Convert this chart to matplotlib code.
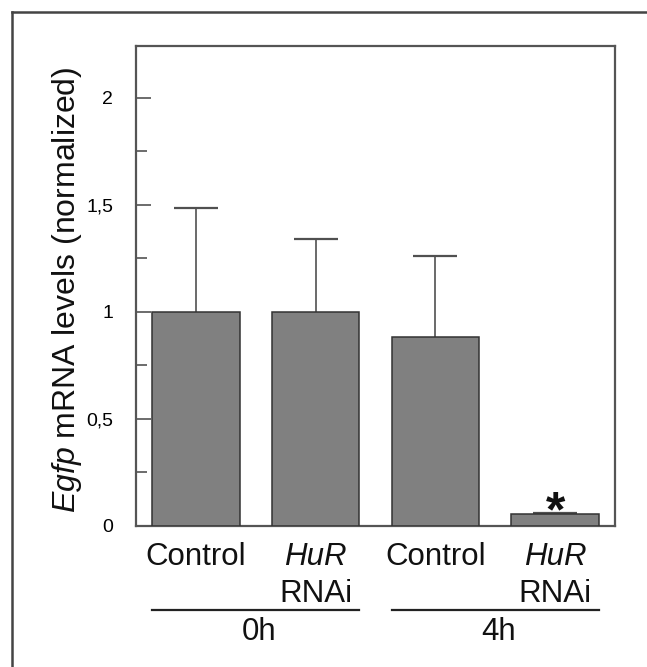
import matplotlib
matplotlib.use("Agg")
import matplotlib.pyplot as plt
from matplotlib.lines import Line2D
import matplotlib.transforms as mtransforms

plt.rcParams['font.family'] = ['Liberation Sans', 'DejaVu Sans']
plt.rcParams['mathtext.fontset'] = 'custom'
plt.rcParams['mathtext.rm'] = 'Liberation Sans'
plt.rcParams['mathtext.it'] = 'Liberation Sans:italic'

# ---- data ----
categories = ["Control", "HuR RNAi", "Control", "HuR RNAi"]
groups = ["0h", "4h"]
values = [1.0, 1.0, 0.882, 0.055]
errors_up = [0.484, 0.342, 0.38, 0.007]
y_ticks = [0, 0.5, 1, 1.5, 2]
y_tick_labels = ["0", "0,5", "1", "1,5", "2"]
y_minor = [0.25, 0.75, 1.25, 1.75]

W, H = 647, 667
fig = plt.figure(figsize=(W / 100, H / 100), dpi=100)

def px_x(x):
    return x / W

def px_y(y):
    return 1 - y / H

ax_l, ax_r, ax_t, ax_b = 136, 615, 46, 526
ax = fig.add_axes([px_x(ax_l), px_y(ax_b), (ax_r - ax_l) / W, (ax_b - ax_t) / H])

xpos = list(range(len(values)))
bar_w = 0.73
ax.bar(xpos, values, width=bar_w, color="#808080", edgecolor="#333333",
       linewidth=1.1, zorder=3)
eb = ax.errorbar(xpos, values, yerr=[[0] * len(values), errors_up], fmt="none",
                 ecolor="#505050", elinewidth=1.2, capsize=15.5, capthick=1.6,
                 zorder=2)
# hide lower caps
caps = eb[1]
if len(caps) >= 2:
    caps[0].set_visible(False)

ax.set_xlim(-0.5, len(values) - 0.5)
ax.set_ylim(0, 2.241)
ax.set_yticks(y_ticks)
ax.set_yticklabels(y_tick_labels)
ax.set_yticks(y_minor, minor=True)
ax.set_xticks([])
ax.tick_params(axis="y", which="major", direction="in", length=10.8, width=1.1,
               color="#444444", labelsize=14, pad=16.5)
ax.tick_params(axis="y", which="minor", direction="in", length=7.9, width=1.1,
               color="#444444")
for s in ax.spines.values():
    s.set_color("#555555")
    s.set_linewidth(1.6)

# y label
ax.text(-0.127, 0.4917, "$\\it{Egfp}$ mRNA levels (normalized)", transform=ax.transAxes,
        rotation=90, rotation_mode="anchor", ha="center", va="baseline",
        fontsize=23, color="#111111")

# category labels
trans = mtransforms.blended_transform_factory(ax.transData, ax.transAxes)
fs = 22.5
for i, cat in enumerate(categories):
    if cat.startswith("HuR"):
        ax.text(i, -0.08125, "HuR", transform=trans, ha="center", va="baseline",
                fontsize=fs, style="italic", color="#111111", clip_on=False)
        ax.text(i, -0.1577, "RNAi", transform=trans, ha="center", va="baseline",
                fontsize=fs, color="#111111", clip_on=False)
    else:
        ax.text(i, -0.08125, cat, transform=trans, ha="center", va="baseline",
                fontsize=fs, color="#111111", clip_on=False)

# group lines and labels
for g, name in enumerate(groups):
    x0 = 2 * g - bar_w / 2
    x1 = 2 * g + 1 + bar_w / 2
    ax.add_line(Line2D([x0, x1], [-0.175, -0.175], transform=trans, color="#222222",
                       linewidth=1.6, clip_on=False))
    ax.text((x0 + x1) / 2 + 0.03, -0.2375, name, transform=trans, ha="center",
            va="baseline", fontsize=fs, color="#111111", clip_on=False)

# significance star
ax.text(3, 0.0, "*", ha="center", va="baseline", fontsize=36, fontweight="bold",
        color="#111111", zorder=5)

# figure frame (only top and left visible)
fig.add_artist(Line2D([px_x(12), px_x(12)], [px_y(12), 0], transform=fig.transFigure,
                      color="#444444", linewidth=1.8))
fig.add_artist(Line2D([px_x(12), 1], [px_y(11.5), px_y(11.5)], transform=fig.transFigure,
                      color="#444444", linewidth=1.8))

fig.savefig("out.png", dpi=100)
